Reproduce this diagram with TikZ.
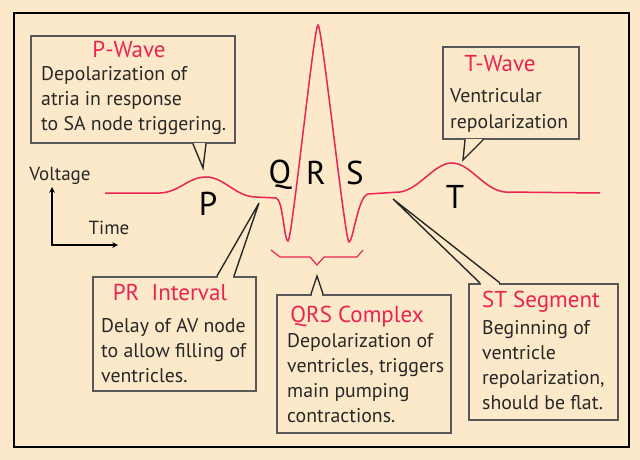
\documentclass[tikz,border=0pt]{standalone}
\usepackage{fontspec}
\setsansfont{PT Sans}
\usepackage{tikz}
\usetikzlibrary{positioning}
\definecolor{paper}{RGB}{252,233,201}
\definecolor{ecgred}{RGB}{234,36,82}
\definecolor{boxgray}{RGB}{88,88,88}
\definecolor{ink}{RGB}{40,40,40}

\begin{document}
\begin{tikzpicture}[x=1pt,y=-1pt]
\tikzstyle{callbox}=[draw=boxgray,line width=2pt,fill=paper,rectangle,anchor=north west,inner sep=0pt]
\tikzstyle{headline}=[text=ecgred,font=\sffamily\fontsize{23}{26}\selectfont,anchor=base,inner sep=0pt]
\tikzstyle{bodytext}=[text=ink,font=\sffamily\fontsize{19.8}{25}\selectfont,align=left,anchor=base west,inner sep=0pt]
\tikzstyle{wavelabel}=[text=black,font=\sffamily\fontsize{33}{33}\selectfont,anchor=base,inner sep=0pt]
\tikzstyle{axislabel}=[text=ink,font=\sffamily\fontsize{19}{19}\selectfont,anchor=base,inner sep=0pt]
\tikzstyle{pointer}=[draw=ink,line width=1.4pt]
\tikzstyle{trace}=[draw=ecgred,line width=1.5pt]

\fill[paper] (0,0) rectangle (640,460);
\draw[line width=2pt] (14,13) rectangle (629,447);

\draw[trace] (105,193) -- (160,193) .. controls (180,192) and (188,177) .. (206,177)
    .. controls (224,177) and (236,197) .. (256,197) -- (276,198)
    .. controls (283,199) and (284,241) .. (288,241)
    .. controls (292,241) and (314,25) .. (318,25)
    .. controls (322,25) and (345,242) .. (349,242)
    .. controls (353,242) and (358,196) .. (368,194) -- (400,192)
    .. controls (420,189) and (434,163) .. (452,163)
    .. controls (470,163) and (484,190) .. (505,192) -- (600,193);
\draw[trace,line width=1.2pt] (271,250) -- (280,257) -- (310,257) -- (317,265) -- (324,257) -- (357,257) -- (363,250);

\node[wavelabel] (p) at (208,215) {P};
\node[wavelabel] (q) at (280,183) {Q};
\node[wavelabel] (r) at (316,184) {R};
\node[wavelabel] (s) at (355,184) {S};
\node[wavelabel] (t) at (455,208) {T};

\coordinate (origin) at (52,245);
\draw[line width=1.5pt,<->,>=stealth] (52,187) -- (origin) -- (118,245);
\node[axislabel] (voltage) at (60,180) {Voltage};
\node[axislabel] (time) at (109,234) {Time};

\node[callbox,minimum width=204pt,minimum height=107pt] (pbox) at (30,35) {};
\node[callbox,minimum width=136pt,minimum height=92pt] (tbox) at (442,46) {};
\node[callbox,minimum width=163pt,minimum height=114pt] (prbox) at (92,276) {};
\node[callbox,minimum width=174pt,minimum height=138pt] (qrsbox) at (276,294) {};
\node[callbox,minimum width=149pt,minimum height=136pt] (stbox) at (468,283) {};

\coordinate (ptip) at (203,168);
\coordinate (ttip) at (463,160);
\coordinate (prtip) at (259,203);
\coordinate (qrstip) at (317,276);
\coordinate (sttip) at (393,199);

\fill[paper] ([xshift=164pt,yshift=1.5pt]pbox.south west) rectangle ([xshift=175pt,yshift=-1.5pt]pbox.south west);
\draw[pointer] ([xshift=163pt]pbox.south west) -- (ptip) -- ([xshift=176pt]pbox.south west);
\fill[paper] ([xshift=24pt,yshift=1.5pt]tbox.south west) rectangle ([xshift=40pt,yshift=-1.5pt]tbox.south west);
\draw[pointer] ([xshift=23pt]tbox.south west) -- (ttip) -- ([xshift=41pt]tbox.south west);
\fill[paper] ([xshift=126pt,yshift=1.5pt]prbox.north west) rectangle ([xshift=141pt,yshift=-1.5pt]prbox.north west);
\draw[pointer] ([xshift=125pt]prbox.north west) -- (prtip) -- ([xshift=142pt]prbox.north west);
\fill[paper] ([xshift=36pt,yshift=1.5pt]qrsbox.north west) rectangle ([xshift=46pt,yshift=-1.5pt]qrsbox.north west);
\draw[pointer] ([xshift=35pt]qrsbox.north west) -- (qrstip) -- ([xshift=47pt]qrsbox.north west);
\fill[paper] ([xshift=13pt,yshift=1.5pt]stbox.north west) rectangle ([xshift=31pt,yshift=-1.5pt]stbox.north west);
\draw[pointer] ([xshift=12pt]stbox.north west) -- (sttip) -- ([xshift=32pt]stbox.north west);

\node[headline] (ptitle) at (129,58) {P-Wave};
\node[bodytext] (pbody) at (41,130) {Depolarization of\\atria in response\\to SA node triggering.};
\node[headline] (ttitle) at (500,72) {T-Wave};
\node[bodytext] (tbody) at (450,128) {Ventricular\\repolarization};
\node[headline] (prtitle) at (170,300) {PR\ \ Interval};
\node[bodytext] (prbody) at (101,382) {Delay of AV node\\to allow filling of\\ventricles.};
\node[headline] (qrstitle) at (357,322) {QRS Complex};
\node[bodytext] (qrsbody) at (287,422) {Depolarization of\\ventricles, triggers\\main pumping\\contractions.};
\node[headline] (sttitle) at (541,307) {ST Segment};
\node[bodytext] (stbody) at (482,409) {Beginning of\\ventricle\\repolarization,\\should be flat.};
\end{tikzpicture}
\end{document}
